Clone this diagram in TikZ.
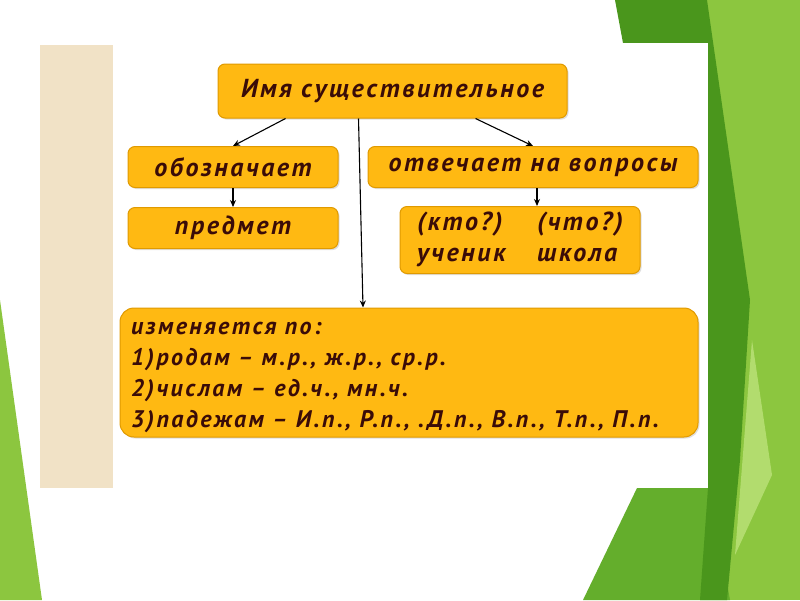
\documentclass[tikz,border=0pt]{standalone}
\usepackage{fontspec}
\setmainfont{PT Sans}
\newfontfamily\boxfont[LetterSpace=10]{PT Sans}
\usetikzlibrary{arrows.meta,shadows}
\definecolor{boxfill}{HTML}{FFB912}
\definecolor{boxline}{HTML}{E09A00}
\definecolor{boxtext}{HTML}{3A0C08}
\definecolor{dkgreen}{HTML}{4A961C}
\definecolor{mdgreen}{HTML}{64AE2C}
\definecolor{ltgreen}{HTML}{8CC63F}
\definecolor{lgreen2}{HTML}{B2DC6E}
\definecolor{beige}{HTML}{F1E2C6}
\tikzset{
  ybox/.style={draw=boxline, line width=1pt, fill=boxfill, rounded corners=7pt,
    text=boxtext, font=\boxfont\bfseries\itshape\fontsize{26}{31}\selectfont,
    inner sep=0pt, drop shadow={opacity=0.25, shadow xshift=1.5pt, shadow yshift=-1.5pt}},
  conn/.style={draw=black, line width=1.1pt, -{Stealth[length=7pt,width=6pt]}}
}
\begin{document}
\begin{tikzpicture}[x=1pt,y=-1pt]
\useasboundingbox (0,0) rectangle (800,600);
\fill[white] (0,0) rectangle (800,600);
% green decoration
\fill[ltgreen] (705,0) -- (800,0) -- (800,600) -- (705,600) -- cycle;
\fill[mdgreen] (583,600) -- (637,488) -- (710,488) -- (730,600) -- cycle;
\fill[dkgreen] (615,0) -- (707,0) -- (750,300) -- (740,460) -- (727,600) -- (700,600) -- (708,488) -- (708,43) -- (623,43) -- cycle;
\fill[lgreen2] (752,340) -- (772,475) -- (735,555) -- cycle;
\fill[ltgreen] (0,300) -- (42,600) -- (0,600) -- cycle;
% panel
\fill[white] (40,43) rectangle (708,488);
\fill[beige] (40,45) rectangle (113,488);
% nodes
\node[ybox, minimum width=349pt, minimum height=54pt] (top) at (392.5,91) {Имя существительное};
\node[ybox, minimum width=210pt, minimum height=41pt] (obo) at (233,167) {обозначает};
\node[ybox, minimum width=330pt, minimum height=41pt] (otv) at (533,167) {отвечает на вопросы};
\node[ybox, minimum width=210pt, minimum height=41pt] (pred) at (233,228) {предмет};
\node[ybox, minimum width=240pt, minimum height=67pt] (kto) at (520,240)
  {\begin{tabular}{@{}p{120pt}@{}l@{}}(кто?) & (что?)\\ ученик & школа\end{tabular}};
\node[ybox, minimum width=578pt, minimum height=129pt, rounded corners=14pt] (big) at (409,372.5) {};
\node[anchor=base west, inner sep=0pt, align=left, text=boxtext,
  font=\boxfont\bfseries\itshape\fontsize{24}{31}\selectfont] (bigtxt) at (131,427)
  {изменяется по:\\1)родам – м.р., ж.р., ср.р.\\2)числам – ед.ч., мн.ч.\\3)падежам – И.п., Р.п., .Д.п., В.п., Т.п., П.п.};
% connectors
\coordinate (a1) at ([xshift=-107pt]top.south);
\coordinate (a2) at ([xshift=83pt]top.south);
\coordinate (a3) at ([xshift=-34pt]top.south);
\draw[conn] (a1) -- (obo.north);
\draw[conn] (a2) -- (otv.north);
\draw[conn] (a3) -- ([xshift=-46pt]big.north);
\draw[conn] (obo.south) -- (pred.north);
\draw[conn] ([xshift=4pt]otv.south) -- ([xshift=17pt]kto.north);
\end{tikzpicture}
\end{document}
